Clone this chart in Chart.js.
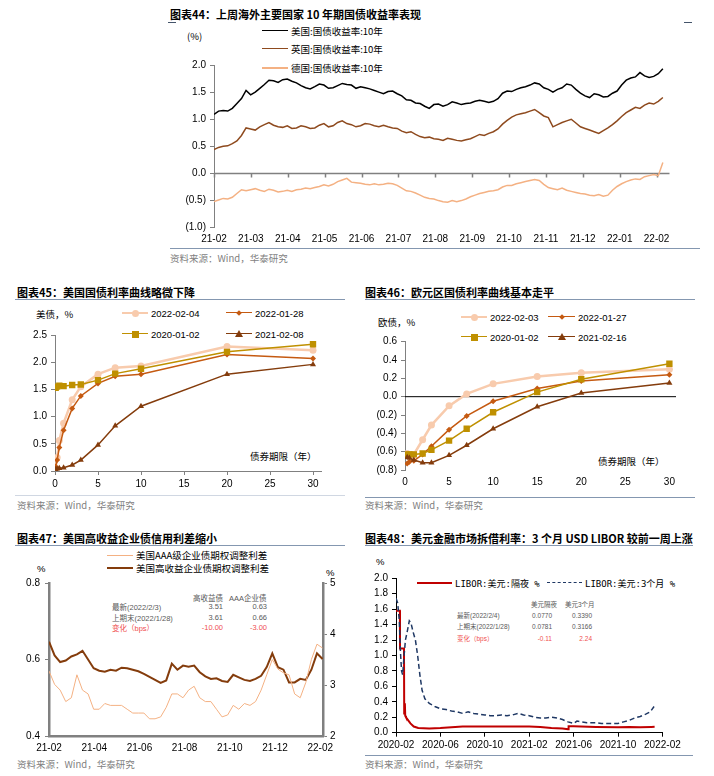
<!DOCTYPE html>
<html><head><meta charset="utf-8">
<script src="https://cdn.jsdelivr.net/npm/chart.js@4.4.1/dist/chart.umd.min.js"></script>
<style>
html,body{margin:0;padding:0;background:#fff;}
body{width:714px;height:776px;position:relative;overflow:hidden;}
.t{position:absolute;white-space:nowrap;line-height:1;}
.ttl{font:bold 11px "Noto Sans CJK SC",sans-serif;color:#000;}
.src{font:9.5px "Noto Sans CJK SC",sans-serif;color:#7f7f7f;}
.lg{font:9.5px "Noto Sans CJK SC",sans-serif;color:#000;}
.lgn{font:9.5px "Liberation Sans",Arial,sans-serif;color:#000;}
.lgm{font:9px "DejaVu Sans Mono","Noto Sans CJK SC",monospace;color:#000;}
.tb{font:7.5px "Liberation Sans","Noto Sans CJK SC",sans-serif;color:#595959;}
.tb2{font:6.5px "Liberation Sans","Noto Sans CJK SC",sans-serif;color:#595959;}
.red{color:#f05050;}
canvas{position:absolute;}
</style></head><body>
<script>
// ---- chart 44: 10y government bond yields (twice-weekly samples, 2021-02 .. 2022-02-04)
const months44 = ['21-02','21-03','21-04','21-05','21-06','21-07','21-08','21-09','21-10','21-11','21-12','22-01','22-02'];
const us10y = [1.09,1.15,1.16,1.15,1.20,1.29,1.38,1.53,1.45,1.50,
  1.57,1.64,1.72,1.71,1.68,1.73,1.74,1.70,1.67,1.62,
  1.58,1.56,1.60,1.65,1.63,1.57,1.58,1.62,1.66,1.64,
  1.63,1.57,1.60,1.58,1.56,1.53,1.50,1.47,1.51,1.52,
  1.47,1.43,1.36,1.35,1.30,1.29,1.24,1.20,1.27,1.28,
  1.24,1.27,1.32,1.30,1.27,1.29,1.30,1.33,1.35,1.33,
  1.31,1.33,1.38,1.48,1.52,1.51,1.55,1.58,1.60,1.63,
  1.67,1.65,1.58,1.55,1.50,1.55,1.58,1.65,1.63,1.55,
  1.48,1.43,1.40,1.47,1.45,1.41,1.42,1.48,1.52,1.63,
  1.72,1.76,1.78,1.86,1.80,1.77,1.79,1.84,1.93];
const uk10y = [0.44,0.48,0.50,0.51,0.55,0.60,0.70,0.84,0.82,0.80,
  0.86,0.90,0.94,0.89,0.86,0.85,0.88,0.83,0.84,0.88,
  0.86,0.83,0.84,0.89,0.92,0.86,0.88,0.94,0.97,0.92,
  0.90,0.86,0.88,0.92,0.91,0.88,0.86,0.89,0.86,0.84,
  0.83,0.78,0.75,0.77,0.72,0.68,0.66,0.67,0.64,0.63,
  0.61,0.65,0.63,0.61,0.60,0.62,0.64,0.68,0.72,0.70,
  0.74,0.77,0.82,0.91,0.98,1.04,1.08,1.10,1.12,1.15,
  1.18,1.12,1.06,1.03,0.86,0.90,0.94,0.97,1.00,0.93,
  0.86,0.83,0.80,0.77,0.74,0.79,0.84,0.90,0.97,1.05,
  1.12,1.17,1.22,1.20,1.26,1.30,1.28,1.33,1.40];
const de10y = [-0.52,-0.49,-0.46,-0.47,-0.44,-0.37,-0.30,-0.32,-0.30,-0.28,
  -0.31,-0.33,-0.29,-0.31,-0.34,-0.33,-0.31,-0.33,-0.30,-0.29,
  -0.27,-0.28,-0.26,-0.24,-0.21,-0.23,-0.20,-0.15,-0.12,-0.09,
  -0.16,-0.17,-0.18,-0.20,-0.21,-0.19,-0.21,-0.20,-0.18,-0.19,
  -0.22,-0.27,-0.32,-0.33,-0.36,-0.40,-0.44,-0.46,-0.47,-0.50,
  -0.52,-0.53,-0.50,-0.52,-0.50,-0.47,-0.43,-0.40,-0.37,-0.35,
  -0.33,-0.32,-0.30,-0.25,-0.22,-0.22,-0.19,-0.17,-0.15,-0.13,
  -0.11,-0.13,-0.20,-0.26,-0.28,-0.30,-0.27,-0.31,-0.33,-0.35,
  -0.37,-0.38,-0.40,-0.41,-0.39,-0.42,-0.40,-0.31,-0.24,-0.19,
  -0.15,-0.12,-0.10,-0.11,-0.06,-0.04,-0.02,-0.04,0.20];
const span44 = 12.17; // months covered by the series

// ---- chart 45: US treasury curve
const usMaturity = [0.08,0.25,0.5,1,2,3,5,7,10,20,30];
const usCurve220204 = [0.05,0.25,0.56,0.88,1.31,1.55,1.78,1.90,1.93,2.29,2.22];
const usCurve220128 = [0.08,0.20,0.43,0.75,1.15,1.38,1.61,1.74,1.78,2.14,2.07];
const usCurve200102 = [1.53,1.55,1.57,1.56,1.58,1.59,1.67,1.79,1.88,2.19,2.33];
const usCurve210208 = [0.03,0.04,0.05,0.06,0.11,0.20,0.48,0.83,1.19,1.78,1.96];

// ---- chart 46: euro area curve
const euMaturity = [0.25,0.5,1,2,3,5,7,10,15,20,30];
const euCurve220203 = [-0.62,-0.63,-0.63,-0.47,-0.31,-0.10,0.03,0.14,0.22,0.26,0.30];
const euCurve220127 = [-0.73,-0.71,-0.70,-0.63,-0.54,-0.36,-0.21,-0.05,0.09,0.17,0.24];
const euCurve200102 = [-0.63,-0.63,-0.63,-0.62,-0.58,-0.48,-0.35,-0.17,0.05,0.19,0.36];
const euCurve210216 = [-0.66,-0.67,-0.69,-0.72,-0.72,-0.64,-0.53,-0.35,-0.11,0.04,0.15];

// ---- chart 47: credit spreads (weekly samples)
const months47 = ['21-02','21-04','21-06','21-08','21-10','21-12','22-02'];
const hyOAS = [3.85,3.58,3.45,3.48,3.56,3.60,3.67,3.50,3.33,3.28,3.26,3.30,3.28,3.34,3.33,3.30,3.27,3.22,3.16,3.10,3.04,3.09,3.42,3.30,3.38,3.36,3.38,3.25,3.17,3.12,3.13,3.08,3.06,3.20,3.15,3.10,3.08,3.12,3.18,3.35,3.62,3.35,3.30,3.05,3.05,3.12,3.10,3.30,3.62,3.51];
const aaaOAS = [0.57,0.535,0.52,0.49,0.50,0.56,0.52,0.51,0.47,0.47,0.485,0.48,0.48,0.48,0.47,0.46,0.46,0.46,0.445,0.445,0.45,0.475,0.51,0.51,0.50,0.52,0.53,0.50,0.49,0.49,0.47,0.45,0.455,0.48,0.47,0.485,0.48,0.49,0.52,0.56,0.60,0.575,0.565,0.56,0.51,0.50,0.54,0.60,0.64,0.63];
const span47 = 12.1;

// ---- chart 48: USD LIBOR (x = months since 2020-02)
const months48 = ['2020-02','2020-06','2020-10','2021-02','2021-06','2021-10','2022-02'];
const onT = [0,0.35,0.36,0.72,0.74,0.80,0.83,0.90,1.1,1.3,1.6,2.0,3,4,5,6,8,10,12,13,14,15,15.5,15.55,16,18,20,21,22,23,23.3];
const onRate = [1.58,1.58,1.09,1.09,0.25,0.38,0.22,0.20,0.16,0.12,0.08,0.06,0.055,0.06,0.07,0.08,0.08,0.08,0.08,0.075,0.06,0.055,0.045,0.085,0.085,0.075,0.07,0.075,0.07,0.075,0.077];
const m3T = [0,0.15,0.3,0.4,0.5,0.6,0.7,0.85,1.0,1.2,1.35,1.55,1.75,1.95,2.15,2.35,2.6,3.0,3.5,4.0,4.5,5.0,5.5,6.0,6.5,7.0,7.5,8.0,8.5,9.0,9.5,10.0,10.5,11.0,11.5,12.0,12.5,13.0,13.5,14.0,14.5,15.0,15.5,16.0,16.3,16.7,17.2,18.0,18.5,19.0,19.5,20.0,20.5,21.0,21.5,22.0,22.5,22.9,23.25];
const m3Rate = [1.74,1.68,1.45,1.05,0.80,0.75,0.95,1.20,1.30,1.45,1.42,1.30,1.20,1.00,0.75,0.55,0.44,0.38,0.34,0.31,0.30,0.28,0.27,0.25,0.27,0.25,0.24,0.23,0.22,0.22,0.23,0.22,0.23,0.25,0.23,0.22,0.20,0.19,0.19,0.20,0.19,0.17,0.14,0.12,0.15,0.14,0.13,0.13,0.12,0.12,0.12,0.12,0.14,0.16,0.19,0.21,0.24,0.27,0.34];

// colours
const C_PINK = '#F8CBAD', C_ORANGE = '#C55A11', C_MUSTARD = '#BF9000', C_BROWN = '#843C0C';
const GRAY = '#808080';

Chart.defaults.font.family = '"Liberation Sans", Arial, sans-serif';
Chart.defaults.font.size = 10;
Chart.defaults.color = '#000';

// ---------- helpers ----------
function txt(s, x, cy, cls, right) {
  const d = document.createElement('div');
  d.className = 't ' + cls;
  d.textContent = s;
  d.style.left = x + 'px';
  d.style.top = cy + 'px';
  d.style.transform = right ? 'translate(-100%,-50%)' : 'translateY(-50%)';
  document.body.appendChild(d);
  return d;
}
function hline(x1, x2, y, color, w, dashed) {
  const d = document.createElement('div');
  d.style.cssText = 'position:absolute;height:0;left:' + x1 + 'px;width:' + (x2 - x1) + 'px;top:' + (y - w / 2) + 'px;border-top:' + w + 'px ' + (dashed ? 'dashed' : 'solid') + ' ' + color;
  document.body.appendChild(d);
}
function marker(cx, cy, type, color) {
  const d = document.createElement('div');
  let s = 'position:absolute;';
  if (type === 'circle') s += 'width:7px;height:7px;border-radius:50%;background:' + color + ';left:' + (cx - 3.5) + 'px;top:' + (cy - 3.5) + 'px;';
  if (type === 'rect') s += 'width:7px;height:7px;background:' + color + ';left:' + (cx - 3.5) + 'px;top:' + (cy - 3.5) + 'px;';
  if (type === 'rectRot') s += 'width:4px;height:4px;background:' + color + ';left:' + (cx - 2) + 'px;top:' + (cy - 2) + 'px;transform:rotate(45deg);';
  if (type === 'triangle') s += 'width:0;height:0;border-left:4px solid transparent;border-right:4px solid transparent;border-bottom:7px solid ' + color + ';left:' + (cx - 4) + 'px;top:' + (cy - 4.5) + 'px;';
  d.style.cssText = s;
  document.body.appendChild(d);
}
function legendRow(x1, x2, y, color, w, type, label, cls) {
  hline(x1, x2, y, color, w);
  if (type) marker((x1 + x2) / 2, y, type, color);
  txt(label, x2 + 3, y, cls);
}
function canvasAt(left, top, w, h) {
  const c = document.createElement('canvas');
  c.width = w; c.height = h;
  c.style.left = left + 'px'; c.style.top = top + 'px';
  c.style.width = w + 'px'; c.style.height = h + 'px';
  document.body.appendChild(c);
  return c;
}
const fixW = w => s => { s.width = w; };
const fixH = h => s => { s.height = h; };
const setTicks = vals => s => { s.ticks = vals.map(v => ({ value: v })); };
const paren1 = v => { v = Math.round(v * 10) / 10; return v < 0 ? '(' + Math.abs(v).toFixed(1) + ')' : v.toFixed(1); };
const range = (a, b, st) => { const r = []; for (let v = a; v <= b + 1e-9; v += st) r.push(Math.round(v * 10) / 10); return r; };
const evenSeries = (vals, span) => vals.map((v, i) => ({ x: i * span / (vals.length - 1), y: v }));
const pairSeries = (xs, ys) => xs.map((x, i) => ({ x: x, y: ys[i] }));

function baseOptions(extra) {
  return Object.assign({
    responsive: false,
    animation: false,
    events: [],
    elements: { line: { tension: 0 }, point: { radius: 0 } },
  }, extra, {
    plugins: Object.assign({ legend: { display: false }, tooltip: { enabled: false } }, extra.plugins || {})
  });
}

// horizontal axis line at value 0, with optional tick marks below it
const zeroAxis = {
  id: 'zeroAxis',
  beforeDatasetsDraw(chart, args, opts) {
    const { ctx, chartArea: a, scales: { x, y } } = chart;
    const y0 = y.getPixelForValue(0);
    ctx.save();
    ctx.strokeStyle = opts.color;
    ctx.lineWidth = opts.width || 1;
    ctx.beginPath();
    ctx.moveTo(a.left, y0);
    ctx.lineTo(a.right, y0);
    (opts.ticks || []).forEach(v => {
      const px = Math.round(x.getPixelForValue(v)) + 0.5;
      ctx.moveTo(px, y0);
      ctx.lineTo(px, y0 + 4);
    });
    ctx.stroke();
    ctx.restore();
  }
};

// ================= chart 44 =================
txt('图表44：上周海外主要国家 10 年期国债收益率表现', 170, 14, 'ttl');
hline(168, 176, 22, '#44546A', 1);
hline(684, 692, 22, '#44546A', 1);
txt('(%)', 187, 36, 'lg');
legendRow(262, 288, 31, '#000', 1.5, null, '美国:国债收益率:10年', 'lg');
legendRow(262, 288, 49, '#8E4A1E', 1.5, null, '英国:国债收益率:10年', 'lg');
legendRow(262, 288, 68, '#F4B183', 2.5, null, '德国:国债收益率:10年', 'lg');
hline(170, 700, 248, '#8497B0', 1);
txt('资料来源：Wind，华泰研究', 170, 258, 'src');

const monthIdx44 = months44.map((m, i) => i);
new Chart(canvasAt(160, 40, 520, 215), {
  type: 'line',
  data: { datasets: [
    { data: evenSeries(de10y, span44), borderColor: '#F4B183', borderWidth: 1.5 },
    { data: evenSeries(uk10y, span44), borderColor: '#8E4A1E', borderWidth: 1.5 },
    { data: evenSeries(us10y, span44), borderColor: '#000000', borderWidth: 1.5 },
  ] },
  options: baseOptions({
    layout: { padding: { top: 25, right: 10.5, left: 0, bottom: 0 } },
    scales: {
      x: { type: 'linear', min: 0, max: 12.35, afterBuildTicks: setTicks(monthIdx44), afterFit: fixH(27.3),
           grid: { display: false, drawTicks: false }, border: { display: false },
           ticks: { callback: (v, i) => months44[i], padding: 6, maxRotation: 0, autoSkip: false } },
      y: { min: -1, max: 2, afterBuildTicks: setTicks(range(-1, 2, 0.5)), afterFit: fixW(54),
           grid: { drawOnChartArea: false, color: GRAY, tickLength: 4 }, border: { color: GRAY },
           ticks: { callback: paren1, padding: 4 } }
    },
    plugins: { zeroAxis: { color: GRAY, width: 1.5, ticks: monthIdx44 } }
  }),
  plugins: [zeroAxis]
});

// ================= chart 45 =================
txt('图表45：美国国债利率曲线略微下降', 17, 292, 'ttl');
hline(15, 345, 299, '#8497B0', 1);
txt('美债，%', 36, 314, 'lg');
legendRow(122, 148, 313, C_PINK, 2.5, 'circle', '2022-02-04', 'lgn');
legendRow(226, 252, 313, C_ORANGE, 1.5, 'rectRot', '2022-01-28', 'lgn');
legendRow(122, 148, 334, C_MUSTARD, 1.5, 'rect', '2020-01-02', 'lgn');
legendRow(226, 252, 334, C_BROWN, 1.5, 'triangle', '2021-02-08', 'lgn');
txt('债券期限（年）', 250, 456, 'lg');
hline(15, 345, 495, '#D0D7E2', 1);
txt('资料来源：Wind，华泰研究', 17, 505, 'src');

function curveChart(left, top, padTop, padRight, xMax, yMin, yMax, yStep, xH, fmt, sets, zero) {
  return new Chart(canvasAt(left, top, 340, 195), {
    type: 'line',
    data: { datasets: sets },
    options: baseOptions({
      layout: { padding: { top: padTop, right: padRight, left: 0, bottom: 0 } },
      scales: {
        x: { type: 'linear', min: 0, max: xMax, afterBuildTicks: setTicks(range(0, 30, 5)), afterFit: fixH(xH),
             grid: zero ? { display: false, drawTicks: false } : { drawOnChartArea: false, color: GRAY, tickLength: 4 },
             border: { display: !zero, color: GRAY },
             ticks: { callback: v => String(v), padding: zero ? 6 : 3, maxRotation: 0, autoSkip: false } },
        y: { min: yMin, max: yMax, afterBuildTicks: setTicks(range(yMin, yMax, yStep)), afterFit: fixW(55),
             grid: { drawOnChartArea: false, color: GRAY, tickLength: 4 }, border: { color: GRAY },
             ticks: { callback: fmt, padding: 4 } }
      },
      plugins: zero ? { zeroAxis: { color: '#000', width: 1 } } : {}
    }),
    plugins: zero ? [zeroAxis] : []
  });
}
function curveSets(mat, a, b, c, d) {
  return [
    { data: pairSeries(mat, d), borderColor: C_BROWN, backgroundColor: C_BROWN, borderWidth: 1.5, pointStyle: 'triangle', pointRadius: 3.5, pointBorderWidth: 0 },
    { data: pairSeries(mat, c), borderColor: C_MUSTARD, backgroundColor: C_MUSTARD, borderWidth: 1.5, pointStyle: 'rect', pointRadius: 4.5, pointBorderWidth: 0 },
    { data: pairSeries(mat, b), borderColor: C_ORANGE, backgroundColor: C_ORANGE, borderWidth: 1.5, pointStyle: 'rectRot', pointRadius: 3, pointBorderWidth: 0 },
    { data: pairSeries(mat, a), borderColor: C_PINK, backgroundColor: C_PINK, borderWidth: 2.5, pointStyle: 'circle', pointRadius: 3.5, pointBorderWidth: 0 },
  ];
}
curveChart(0, 300, 35, 18.4, 31, 0, 2.5, 0.5, 24, v => v.toFixed(1),
  curveSets(usMaturity, usCurve220204, usCurve220128, usCurve200102, usCurve210208), false);

// ================= chart 46 =================
txt('图表46：欧元区国债利率曲线基本走平', 365, 292, 'ttl');
hline(365, 695, 299, '#8497B0', 1);
txt('欧债，%', 378, 322, 'lg');
legendRow(461, 487, 317, C_PINK, 2.5, 'circle', '2022-02-03', 'lgn');
legendRow(548, 575, 317, C_ORANGE, 1.5, 'rectRot', '2022-01-27', 'lgn');
legendRow(461, 487, 337, C_MUSTARD, 1.5, 'rect', '2020-01-02', 'lgn');
legendRow(548, 575, 337, C_BROWN, 1.5, 'triangle', '2021-02-16', 'lgn');
txt('债券期限（年）', 598, 461, 'lg');
hline(365, 695, 497, '#8497B0', 1);
txt('资料来源：Wind，华泰研究', 365, 505, 'src');

curveChart(350, 300, 41.7, 14, 30.75, -0.8, 0.6, 0.2, 25, paren1,
  curveSets(euMaturity, euCurve220203, euCurve220127, euCurve200102, euCurve210216), true);

// ================= chart 47 =================
txt('图表47：美国高收益企业债信用利差缩小', 17, 538, 'ttl');
hline(15, 345, 545, '#8497B0', 1);
legendRow(107, 133, 555, '#F4B183', 1, null, '美国AAA级企业债期权调整利差', 'lg');
legendRow(107, 133, 568, C_BROWN, 2.5, null, '美国高收益企业债期权调整利差', 'lg');
txt('%', 37, 568, 'lgn');
txt('%', 326, 572, 'lgn');
txt('高收益债', 193, 597, 'tb');
txt('AAA企业债', 229, 597, 'tb');
txt('最新(2022/2/3)', 112, 606, 'tb');
txt('3.51', 223, 606, 'tb', true);
txt('0.63', 267, 606, 'tb', true);
txt('上期末(2022/1/28)', 112, 617, 'tb');
txt('3.61', 223, 617, 'tb', true);
txt('0.66', 267, 617, 'tb', true);
txt('变化（bps）', 112, 627, 'tb red');
txt('-10.00', 223, 627, 'tb red', true);
txt('-3.00', 267, 627, 'tb red', true);
txt('资料来源：Wind，华泰研究', 17, 764, 'src');

new Chart(canvasAt(0, 560, 350, 200), {
  type: 'line',
  data: { datasets: [
    { data: evenSeries(aaaOAS, span47), borderColor: '#F4B183', borderWidth: 1, yAxisID: 'y' },
    { data: evenSeries(hyOAS, span47), borderColor: C_BROWN, borderWidth: 2, yAxisID: 'y1' },
  ] },
  options: baseOptions({
    layout: { padding: { top: 23, right: 0, left: 0, bottom: 0 } },
    scales: {
      x: { type: 'linear', min: 0, max: 12.12, afterBuildTicks: setTicks(range(0, 12, 2)), afterFit: fixH(24),
           grid: { display: false, drawTicks: false }, border: { color: GRAY, width: 2.5 },
           ticks: { callback: (v, i) => months47[i], padding: 6, maxRotation: 0, autoSkip: false } },
      y: { position: 'left', min: 0.4, max: 0.8, afterBuildTicks: setTicks([0.4, 0.6, 0.8]), afterFit: fixW(49),
           grid: { drawOnChartArea: false, color: GRAY, tickLength: 4 }, border: { color: GRAY, width: 2.5 },
           ticks: { callback: v => v.toFixed(1), padding: 5 } },
      y1: { position: 'right', min: 2, max: 5, afterBuildTicks: setTicks([2, 3, 4, 5]), afterFit: fixW(27),
            grid: { drawOnChartArea: false, color: GRAY, tickLength: 4 }, border: { color: GRAY, width: 2.5 },
            ticks: { callback: v => String(v), padding: 3 } }
    }
  })
});

// ================= chart 48 =================
txt('图表48：美元金融市场拆借利率：3 个月 USD LIBOR 较前一周上涨', 365, 538, 'ttl');
hline(365, 693, 545, '#8497B0', 1);
txt('%', 376, 561, 'lgn');
legendRow(417, 452, 583, '#C00000', 2, null, 'LIBOR:美元:隔夜 %', 'lgm');
hline(547, 582, 583, '#1F3864', 1.5, true);
txt('LIBOR:美元:3个月 %', 585, 583, 'lgm');
txt('美元隔夜', 531, 604, 'tb2');
txt('美元3个月', 565, 604, 'tb2');
txt('最新(2022/2/4)', 457, 615, 'tb2');
txt('0.0770', 552, 615, 'tb2', true);
txt('0.3390', 592, 615, 'tb2', true);
txt('上期末(2022/1/28)', 457, 626, 'tb2');
txt('0.0781', 552, 626, 'tb2', true);
txt('0.3166', 592, 626, 'tb2', true);
txt('变化（bps）', 457, 638, 'tb2 red');
txt('-0.11', 552, 638, 'tb2 red', true);
txt('2.24', 592, 638, 'tb2 red', true);
hline(365, 693, 755, '#8497B0', 1);
txt('资料来源：Wind，华泰研究', 365, 764, 'src');

new Chart(canvasAt(350, 560, 350, 200), {
  type: 'line',
  data: { datasets: [
    { data: pairSeries(m3T, m3Rate), borderColor: '#1F3864', borderWidth: 1.5, borderDash: [5, 3] },
    { data: pairSeries(onT, onRate), borderColor: '#C00000', borderWidth: 2 },
  ] },
  options: baseOptions({
    layout: { padding: { top: 18.3, right: 37.6, left: 0, bottom: 0 } },
    scales: {
      x: { type: 'linear', min: 0, max: 24, afterBuildTicks: setTicks(range(0, 24, 4)), afterFit: fixH(27.3),
           grid: { drawOnChartArea: false, color: '#000', tickLength: 4 }, border: { color: '#000' },
           ticks: { callback: (v, i) => months48[i], padding: 3, maxRotation: 0, autoSkip: false } },
      y: { min: 0, max: 2, afterBuildTicks: setTicks(range(0, 2, 0.2)), afterFit: fixW(46),
           grid: { drawOnChartArea: false, color: '#000', tickLength: 4 }, border: { color: '#000' },
           ticks: { callback: v => v.toFixed(1), padding: 4 } }
    }
  })
});
</script>
</body></html>
